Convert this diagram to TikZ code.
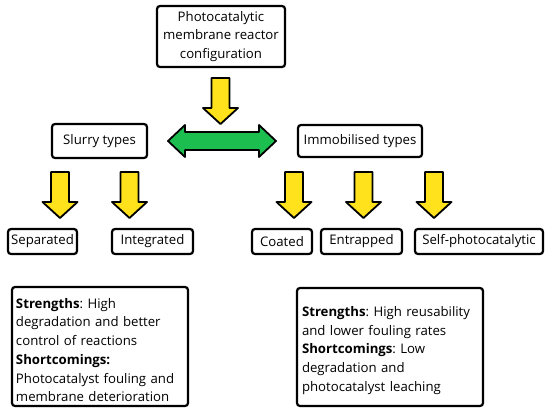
\documentclass[tikz,border=0pt]{standalone}
\usepackage{fontspec}
\setmainfont{Open Sans}
\frenchspacing
\definecolor{arryel}{RGB}{255,226,28}
\definecolor{arrgreen}{RGB}{28,190,80}
\begin{document}
\begin{tikzpicture}[x=1pt,y=-1pt,
  box/.style={draw=black,line width=2.2pt,rounded corners=3pt,fill=white,inner sep=0pt,font=\fontsize{13.2}{18.7}\selectfont},
  bodytext/.style={inner sep=0pt,align=left,font=\fontsize{13.2}{18.7}\selectfont},
  arrshape/.style={draw=black,line width=1.8pt,line join=round},
  pics/downarr/.style={code={
    \draw[arrshape,fill=arryel] (-9,0) -- (9,0) -- (9,30) -- (17.5,30) -- (0,46) -- (-17.5,30) -- (-9,30) -- cycle;}},
  pics/dblarr/.style={code={
    \draw[arrshape,fill=arrgreen] (-54,0) -- (-37,-16) -- (-37,-9) -- (37,-9) -- (37,-16) -- (54,0) -- (37,16) -- (37,9) -- (-37,9) -- (-37,16) -- cycle;}}
]
\useasboundingbox (0,0) rectangle (550,413);
% boxes
\node[box,minimum width=128pt,minimum height=61pt,align=center] (top) at (221,36.5) {Photocatalytic\\membrane reactor\\configuration};
\node[box,minimum width=95pt,minimum height=34pt] (slurry) at (99.5,141) {Slurry types};
\node[box,minimum width=124pt,minimum height=32pt] (immob) at (360,141) {Immobilised types};
\node[box,minimum width=69pt,minimum height=25pt] (sep) at (42.5,241.5) {Separated};
\node[box,minimum width=81pt,minimum height=25pt] (integ) at (152.5,241.5) {Integrated};
\node[box,minimum width=60pt,minimum height=25pt] (coat) at (282,241.5) {Coated};
\node[box,minimum width=81pt,minimum height=25pt] (entr) at (361.5,241.5) {Entrapped};
\node[box,minimum width=128pt,minimum height=25pt] (self) at (479,241.5) {Self-photocatalytic};
\node[box,minimum width=176pt,minimum height=119pt] (left) at (100,346.5) {};
\node[bodytext,text width=168pt,yshift=-3.5pt] (lefttxt) at (left.center)
 {\textbf{Strengths}: High\\degradation and better\\control of reactions\\\textbf{Shortcomings:}\\Photocatalyst fouling and\\membrane deterioration};
\node[box,minimum width=186pt,minimum height=118pt] (right) at (390,347) {};
\node[bodytext,text width=176pt,yshift=-3.5pt] (righttxt) at (right.center)
 {\textbf{Strengths}: High reusability\\and lower fouling rates\\\textbf{Shortcomings}: Low\\degradation and\\photocatalyst leaching};
% arrows
\coordinate (a0) at (220.5,78);
\pic at (a0) {downarr};
\coordinate (a1) at (60,172);
\pic at (a1) {downarr};
\coordinate (a2) at (129.5,172);
\pic at (a2) {downarr};
\coordinate (a3) at (294,172);
\pic at (a3) {downarr};
\coordinate (a4) at (363.5,172);
\pic at (a4) {downarr};
\coordinate (a5) at (434,172);
\pic at (a5) {downarr};
% green double arrow
\coordinate (g) at (222,141);
\pic at (g) {dblarr};
\end{tikzpicture}
\end{document}
